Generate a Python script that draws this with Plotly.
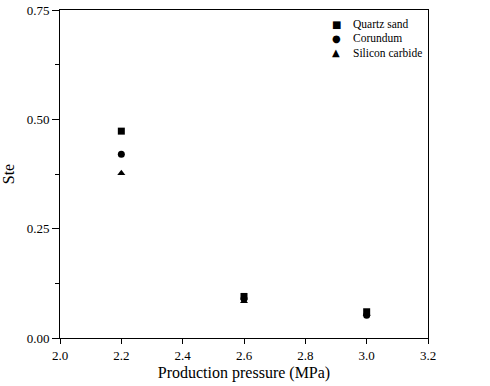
import plotly.graph_objects as go

pressure = [2.2, 2.6, 3.0]
quartz_sand = [0.473, 0.095, 0.060]
corundum = [0.420, 0.090, 0.052]
silicon_carbide = [0.377, 0.084, 0.055]

names = ["Quartz sand", "Corundum", "Silicon carbide"]
symbols = ["square", "circle", "triangle-up"]
glyphs = ["■", "●", "▲"]
values = [quartz_sand, corundum, silicon_carbide]

fig = go.Figure()
for name, vals, sym in zip(names, values, symbols):
    fig.add_trace(go.Scatter(x=pressure, y=vals, mode="markers", name=name,
                             marker=dict(symbol=sym, size=7, color="black")))

font = "Liberation Serif, Times New Roman, serif"

# compact legend (row spacing closer than Plotly's minimum legend item height)
leg_y = [0.957, 0.914, 0.870]
for name, g, yy in zip(names, glyphs, leg_y):
    fig.add_annotation(xref="paper", yref="paper", x=0.750, y=yy, text=g,
                       showarrow=False, xanchor="center", yanchor="middle",
                       font=dict(family="DejaVu Sans", size=10, color="black"))
    fig.add_annotation(xref="paper", yref="paper", x=0.790, y=yy, text=name,
                       showarrow=False, xanchor="left", yanchor="middle",
                       font=dict(family=font, size=11.5, color="black"))

fig.update_layout(
    width=490, height=386,
    margin=dict(l=60, r=62, t=10, b=48, autoexpand=False),
    paper_bgcolor="white", plot_bgcolor="white",
    font=dict(family=font, color="black", size=13),
    showlegend=False,
    xaxis=dict(range=[2.0, 3.2], dtick=0.2, tickformat=".1f", automargin=True,
               showline=True, linecolor="black", linewidth=1, mirror=True,
               ticks="outside", ticklen=5, tickcolor="black", showgrid=False,
               zeroline=False, ticklabeloverflow="allow",
               title=dict(text="Production pressure (MPa)", font=dict(size=16), standoff=5)),
    yaxis=dict(range=[0, 0.75], dtick=0.25, tickformat=".2f", automargin=True,
               showline=True, linecolor="black", linewidth=1, mirror=True,
               ticks="outside", ticklen=7, tickcolor="black", showgrid=False,
               zeroline=False, ticklabeloverflow="allow",
               minor=dict(dtick=0.125, ticks="outside", ticklen=4, tickcolor="black"),
               title=dict(text="Ste", font=dict(size=16), standoff=13)),
)
fig.write_html("out.html", config={"displayModeBar": False},
               post_script="document.body.style.margin='0';document.body.style.overflow='hidden';")
